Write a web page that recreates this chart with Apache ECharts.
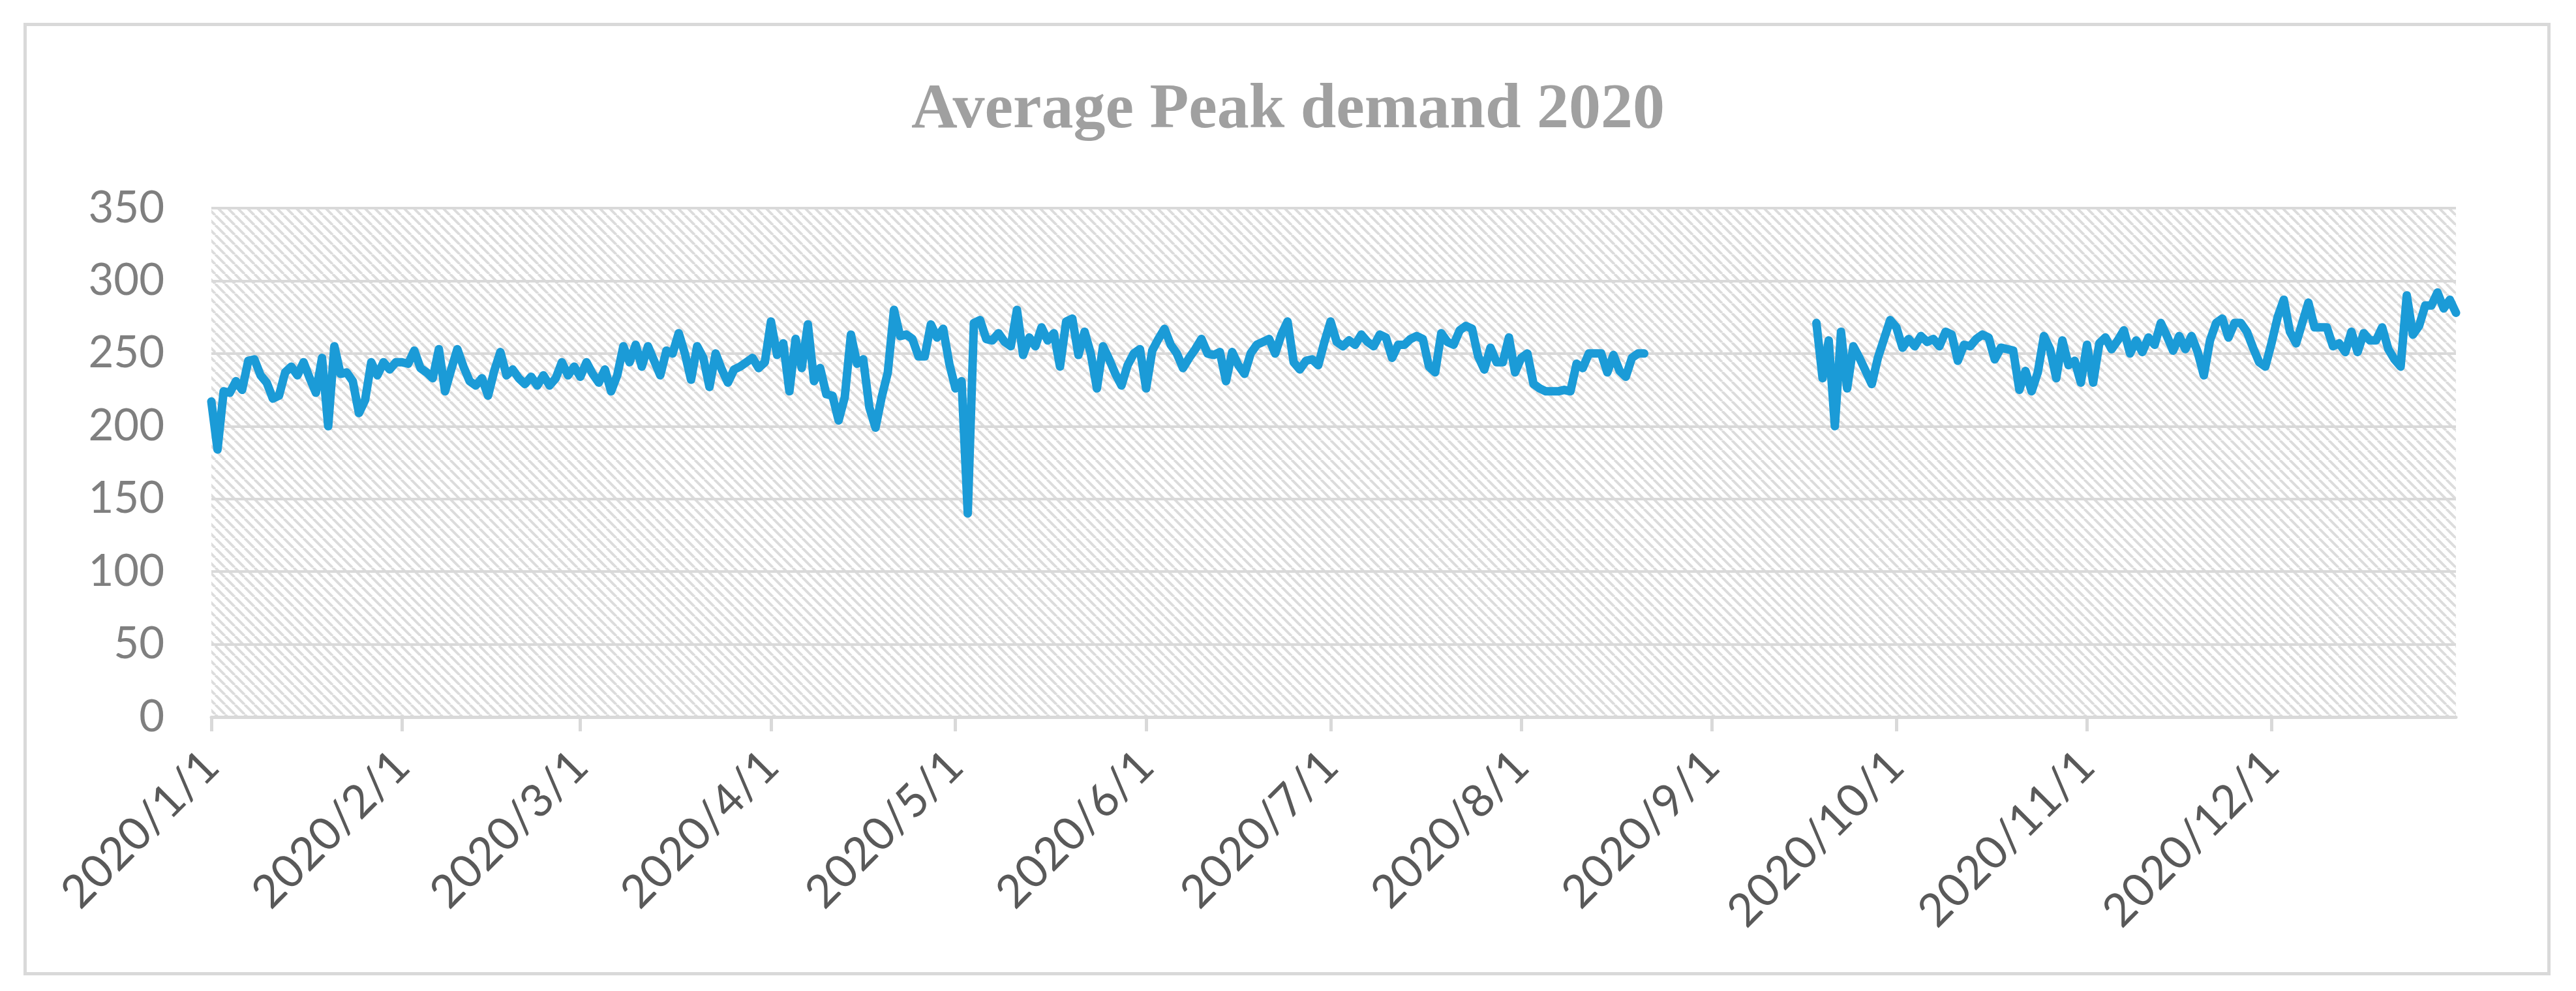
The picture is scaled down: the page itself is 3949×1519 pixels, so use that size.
<!DOCTYPE html>
<html>
<head>
<meta charset="utf-8">
<script src="https://cdn.jsdelivr.net/npm/echarts@6/dist/echarts.min.js"></script>
<style>
html,body{margin:0;padding:0;background:#fff;}
#chart{width:3949px;height:1519px;}
</style>
</head>
<body>
<div id="chart"></div>
<script>
// Daily average peak demand, 2020 (null = no data)
const jan = [217,184,224,223,231,225,245,246,235,230,219,221,237,241,235,244,233,223,247,200,255,236,237,231,209,218,244,235,244,239,244];
const feb = [244,243,252,240,237,233,253,224,239,253,241,231,228,233,221,238,251,235,239,233,229,234,228,235,228,233,244,235,241];
const mar = [234,244,236,230,239,224,235,255,244,256,241,255,245,235,252,250,264,250,232,255,247,227,250,239,230,239,241,244,247,240,244];
const apr = [272,249,257,224,260,240,270,231,240,222,221,204,220,263,243,246,213,199,220,237,280,262,263,260,248,248,270,261,267,243];
const may = [226,231,140,271,273,260,259,264,258,255,280,249,261,255,268,259,264,241,272,274,249,265,250,226,255,246,236,228,242,250,253];
const jun = [226,252,260,267,256,250,240,247,253,260,250,249,251,231,251,242,236,250,256,258,260,250,263,272,244,239,245,246,242,258];
const jul = [272,258,255,259,256,263,258,255,263,261,247,256,256,260,262,260,241,237,264,258,256,266,269,267,248,239,254,244,244,261,237];
const aug = [247,250,229,226,224,224,224,225,224,243,240,250,250,250,237,249,238,234,247,250,250,null,null,null,null,null,null,null,null,null,null];
const sep = [null,null,null,null,null,null,null,null,null,null,null,null,null,null,null,null,null,271,233,259,200,265,226,255,247,238,229,247,260,273];
const oct = [268,254,260,255,262,258,260,255,265,263,245,256,255,260,263,261,246,254,253,252,225,238,224,237,262,253,233,259,242,245,230];
const nov = [256,230,257,261,253,259,266,250,259,251,261,256,271,262,252,262,253,262,251,235,259,271,274,261,271,271,265,254,244,241];
const dec = [257,275,287,265,257,271,285,268,268,268,255,257,251,265,251,264,259,259,268,253,246,241,290,263,269,283,283,292,281,287,278];

const monthly = [jan,feb,mar,apr,may,jun,jul,aug,sep,oct,nov,dec];
const yTicks = {min: 0, max: 350, step: 50};
const titleText = 'Average Peak demand 2020';

// categories: one per day of 2020, labelled like Excel (yyyy/m/d)
const categories = [];
const values = [];
monthly.forEach(function (arr, m) {
  arr.forEach(function (v, i) {
    categories.push('2020/' + (m + 1) + '/' + (i + 1));
    values.push(v);
  });
});
function isMonthStart(idx, val) {
  return String(val).split('/')[2] === '1';
}

// diagonal hatch pattern for the plot area
const tile = document.createElement('canvas');
const S = 15;
tile.width = S; tile.height = S;
const ctx = tile.getContext('2d');
ctx.fillStyle = '#ffffff';
ctx.fillRect(0, 0, S, S);
ctx.strokeStyle = '#dcdcdc';
ctx.lineWidth = 4;
[-S, 0, S].forEach(function (c) {
  ctx.beginPath();
  ctx.moveTo(c, 0);
  ctx.lineTo(c + S, S);
  ctx.stroke();
});

const chart = echarts.init(document.getElementById('chart'), null, {renderer: 'canvas'});
chart.setOption({
  animation: false,
  backgroundColor: '#ffffff',
  title: {
    text: titleText,
    left: 'center',
    top: 116,
    textStyle: {
      fontFamily: 'Liberation Serif',
      fontWeight: 'bold',
      fontSize: 98,
      color: '#a0a0a0'
    }
  },
  graphic: [{
    type: 'rect',
    left: 36, top: 35,
    shape: {width: 3869, height: 1455},
    style: {fill: 'none', stroke: '#d9d9d9', lineWidth: 5},
    silent: true
  }],
  grid: {
    left: 324, right: 184, top: 319, bottom: 420,
    show: true,
    borderWidth: 0,
    backgroundColor: {image: tile, repeat: 'repeat'}
  },
  xAxis: {
    type: 'category',
    data: categories,
    boundaryGap: false,
    axisLine: {show: true, lineStyle: {color: '#d9d9d9', width: 5}},
    axisTick: {show: true, interval: isMonthStart, length: 22, lineStyle: {color: '#d9d9d9', width: 5}},
    axisLabel: {
      interval: isMonthStart,
      rotate: 45,
      margin: 64,
      fontFamily: 'Lato',
      fontSize: 70,
      color: '#595959'
    },
    splitLine: {show: false}
  },
  yAxis: {
    type: 'value',
    min: yTicks.min,
    max: yTicks.max,
    interval: yTicks.step,
    axisLine: {show: false},
    axisTick: {show: false},
    axisLabel: {
      margin: 72,
      fontFamily: 'Lato',
      fontSize: 67,
      color: '#7f7f7f'
    },
    splitLine: {show: true, lineStyle: {color: '#d9d9d9', width: 4}}
  },
  series: [{
    type: 'line',
    data: values,
    showSymbol: false,
    connectNulls: false,
    lineStyle: {color: '#1b9bd7', width: 13, cap: 'round', join: 'round'},
    itemStyle: {color: '#1b9bd7'}
  }]
});
</script>
</body>
</html>
